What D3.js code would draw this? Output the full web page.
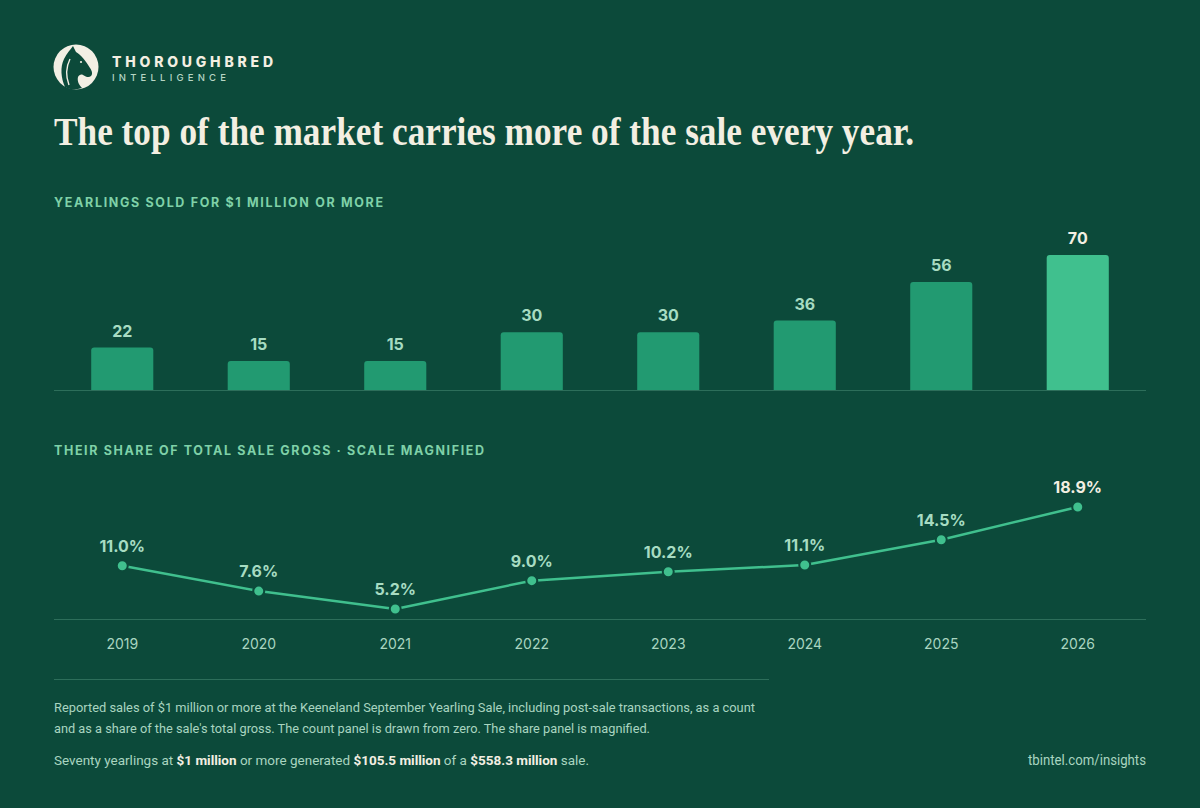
<!DOCTYPE html>
<html><head><meta charset="utf-8">
<script src="https://cdn.jsdelivr.net/npm/d3@7/dist/d3.min.js"></script>
<style>
html,body{margin:0;padding:0;background:#0c4a3a;}
svg{display:block;}
</style></head>
<body>
<svg id="chart" width="1200" height="808"></svg>
<script>
const years = ["2019","2020","2021","2022","2023","2024","2025","2026"];
const countValues = [22,15,15,30,30,36,56,70];
const shareValues = [11.0,7.6,5.2,9.0,10.2,11.1,14.5,18.9];
const shareLabels = ["11.0%","7.6%","5.2%","9.0%","10.2%","11.1%","14.5%","18.9%"];

const BG = "#0c4a3a", CREAM = "#f3efe2", MINT = "#7fd1a8", MINT_TXT = "#a7dcc2",
      BAR = "#229a71", BAR_HI = "#40c08e", RULE = "#2d6e5a", LINE = "#40c08e";
const SANS = "Inter, 'Liberation Sans', sans-serif";
const NARROW = "'Liberation Sans Narrow', 'Roboto', sans-serif";

const svg = d3.select("#chart");
svg.append("rect").attr("width",1200).attr("height",808).attr("fill",BG);

function fit(sel, w, adj){ sel.attr("textLength", w).attr("lengthAdjust", adj || "spacingAndGlyphs"); return sel; }

// Logo
const logo = svg.append("g").attr("transform","translate(76,67)");
logo.append("circle").attr("r",22.5).attr("fill","#f2efe4");
logo.append("path").attr("fill",BG)
  .attr("d","M-11,20 C-15,11 -16,0 -12,-8 C-9,-14 -6,-17 -3,-21 L0,-15 C5,-12 10,-6 14,1 C16,4 17,7 15,9 C13,11 10,10 7,8 C5,7 3,8 2,10 C1,14 3,18 6,21 C0,23 -6,23 -11,20 Z");
logo.append("path").attr("fill","none").attr("stroke","#f2efe4").attr("stroke-width",1.4)
  .attr("d","M-7,18 C-10,10 -10,0 -6,-8");
logo.append("circle").attr("cx",5).attr("cy",-5).attr("r",1.1).attr("fill","#f2efe4");

fit(svg.append("text").attr("x",112).attr("y",67).attr("fill",CREAM)
  .attr("font-family",SANS).attr("font-weight",800).attr("font-size",14)
  .text("THOROUGHBRED"), 161, "spacing");
fit(svg.append("text").attr("x",112).attr("y",80.5).attr("fill","#b7d6c4")
  .attr("font-family",SANS).attr("font-weight",500).attr("font-size",9.5)
  .text("INTELLIGENCE"), 114, "spacing");

// Title
fit(svg.append("text").attr("x",54).attr("y",145).attr("fill",CREAM)
  .attr("font-family","'Liberation Serif', 'DejaVu Serif', serif").attr("font-weight",700).attr("font-size",39)
  .text("The top of the market carries more of the sale every year."), 860);

// Section labels
fit(svg.append("text").attr("x",54).attr("y",207).attr("fill",MINT)
  .attr("font-family",SANS).attr("font-weight",700).attr("font-size",12.5)
  .text("YEARLINGS SOLD FOR $1 MILLION OR MORE"), 329, "spacing");
fit(svg.append("text").attr("x",54).attr("y",455).attr("fill",MINT)
  .attr("font-family",SANS).attr("font-weight",700).attr("font-size",12.5)
  .text("THEIR SHARE OF TOTAL SALE GROSS · SCALE MAGNIFIED"), 430, "spacing");

// Scales
const x = d3.scaleBand().domain(years).range([54,1146]).paddingInner(0.545).paddingOuter(0.2725);
const yBar = d3.scaleLinear().domain([0,70]).range([390,255]);
const yLine = d3.scaleLinear().domain([4,19]).range([617.9,506.2]);
const cx = d => x(d) + x.bandwidth()/2;
const last = years.length - 1;

// Bars
const r = 3;
svg.append("g").selectAll("path").data(countValues).join("path")
  .attr("fill",(d,i)=> i===last ? BAR_HI : BAR)
  .attr("d",(d,i)=>{
    const x0 = x(years[i]), w = x.bandwidth(), y0 = yBar(d), y1 = yBar(0);
    return `M${x0},${y1}V${y0+r}Q${x0},${y0} ${x0+r},${y0}H${x0+w-r}Q${x0+w},${y0} ${x0+w},${y0+r}V${y1}Z`;
  });
svg.append("line").attr("x1",54).attr("x2",1146).attr("y1",yBar(0)+0.5).attr("y2",yBar(0)+0.5)
  .attr("stroke",RULE).attr("stroke-width",1.2);
svg.append("g").selectAll("text").data(countValues).join("text")
  .attr("x",(d,i)=>cx(years[i])).attr("y",d=>yBar(d)-11)
  .attr("text-anchor","middle").attr("font-family",SANS).attr("font-weight",700).attr("font-size",16)
  .attr("fill",(d,i)=> i===last ? CREAM : MINT_TXT).text(d=>d);

// Line panel
svg.append("line").attr("x1",54).attr("x2",1146).attr("y1",619.5).attr("y2",619.5)
  .attr("stroke",RULE).attr("stroke-width",1.2);
const line = d3.line().x((d,i)=>cx(years[i])).y(d=>yLine(d));
svg.append("path").datum(shareValues).attr("d",line).attr("fill","none")
  .attr("stroke",LINE).attr("stroke-width",2.5).attr("stroke-linejoin","round");
svg.append("g").selectAll("circle").data(shareValues).join("circle")
  .attr("cx",(d,i)=>cx(years[i])).attr("cy",d=>yLine(d)).attr("r",5.5)
  .attr("fill",LINE).attr("stroke",BG).attr("stroke-width",2);
svg.append("g").selectAll("text").data(shareValues).join("text")
  .attr("x",(d,i)=>cx(years[i])).attr("y",d=>yLine(d)-14)
  .attr("text-anchor","middle").attr("font-family",SANS).attr("font-weight",700).attr("font-size",16)
  .attr("fill",(d,i)=> i===last ? CREAM : MINT_TXT).text((d,i)=>shareLabels[i]);

// x axis labels
const xAxis = d3.axisBottom(x).tickSize(0).tickPadding(0);
const ax = svg.append("g").attr("transform","translate(0,649)").call(xAxis);
ax.select(".domain").remove();
ax.selectAll("text").attr("dy",0).attr("y",0).attr("font-family",SANS).attr("font-size",14)
  .attr("fill","#a9d5c0");

// Footer
svg.append("line").attr("x1",54).attr("x2",769).attr("y1",679.5).attr("y2",679.5)
  .attr("stroke",RULE).attr("stroke-width",1);
fit(svg.append("text").attr("x",54).attr("y",712).attr("fill","#a9d5c0")
  .attr("font-family",NARROW).attr("font-size",13)
  .text("Reported sales of $1 million or more at the Keeneland September Yearling Sale, including post-sale transactions, as a count"), 701);
fit(svg.append("text").attr("x",54).attr("y",733).attr("fill","#a9d5c0")
  .attr("font-family",NARROW).attr("font-size",13)
  .text("and as a share of the sale's total gross. The count panel is drawn from zero. The share panel is magnified."), 596);
const ft = svg.append("text").attr("x",54).attr("y",765).attr("fill","#a9d5c0")
  .attr("font-family",NARROW).attr("font-size",13.5);
[["Seventy yearlings at ",0],["$1 million",1],[" or more generated ",0],["$105.5 million",1],[" of a ",0],["$558.3 million",1],[" sale.",0]]
  .forEach(([t,b])=>{ const s = ft.append("tspan").text(t); if(b){ s.attr("font-weight",700).attr("fill",CREAM);} });
fit(ft, 535);
fit(svg.append("text").attr("x",1146).attr("y",765).attr("text-anchor","end").attr("fill","#a9d5c0")
  .attr("font-family",NARROW).attr("font-size",14).text("tbintel.com/insights"), 118);
</script>
</body></html>
